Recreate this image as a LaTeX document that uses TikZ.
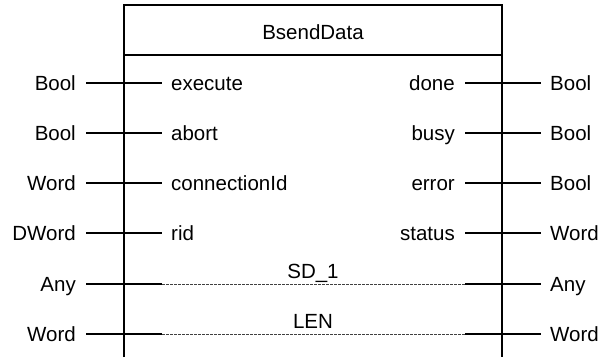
\documentclass[tikz,border=0pt]{standalone}
\usepackage{fontspec}
\setmainfont{Liberation Sans}
\usetikzlibrary{positioning}

\begin{document}
\begin{tikzpicture}[x=1pt, y=-1pt,
  pinlbl/.style={font=\fontsize{20.5}{24}\selectfont, text height=14.7pt,
                 text depth=0pt, inner sep=0pt},
  pinline/.style={line width=1.6pt},
  frame/.style={line width=1.7pt},
  dataline/.style={draw=black!75, line width=1pt, dash pattern=on 3pt off 1pt}
]
\useasboundingbox (0,0) rectangle (603,357);

% block frame, open at the bottom
\coordinate (bl) at (124,357);
\coordinate (tl) at (124,5);
\coordinate (tr) at (502,5);
\coordinate (br) at (502,357);
\coordinate (hl) at (124,55);
\coordinate (hr) at (502,55);
\draw[frame] (bl) -- (tl) -- (tr) -- (br);
\draw[frame] (hl) -- (hr);
\node[pinlbl] (title) at (313,32) {BsendData};

% inputs
\foreach \y/\ty/\nm [count=\i] in {83/Bool/execute, 133/Bool/abort,
                                   183/Word/connectionId, 233/DWord/rid} {
  \coordinate (inA\i) at (86,\y);
  \coordinate (inB\i) at (162,\y);
  \draw[pinline] (inA\i) -- (inB\i);
  \node[pinlbl, left=10pt of inA\i] (intype\i) {\ty};
  \node[pinlbl, right=9pt of inB\i] (inname\i) {\nm};
}

% outputs
\foreach \y/\nm/\ty [count=\i] in {83/done/Bool, 133/busy/Bool,
                                   183/error/Bool, 233/status/Word} {
  \coordinate (outA\i) at (465,\y);
  \coordinate (outB\i) at (541,\y);
  \draw[pinline] (outA\i) -- (outB\i);
  \node[pinlbl, left=10pt of outA\i] (outname\i) {\nm};
  \node[pinlbl, right=9pt of outB\i] (outtype\i) {\ty};
}

% in/out parameters
\foreach \y/\nm/\ty [count=\i] in {284/SD\_1/Any, 334/LEN/Word} {
  \coordinate (ioA\i) at (86,\y);
  \coordinate (ioB\i) at (162,\y);
  \coordinate (ioC\i) at (465,\y);
  \coordinate (ioD\i) at (541,\y);
  \coordinate (iomid\i) at (313,\y);
  \draw[pinline] (ioA\i) -- (ioB\i);
  \draw[dataline] (ioB\i) -- (ioC\i);
  \draw[pinline] (ioC\i) -- (ioD\i);
  \node[pinlbl, left=10pt of ioA\i] (iointype\i) {\ty};
  \node[pinlbl, right=9pt of ioD\i] (ioouttype\i) {\ty};
  \node[pinlbl, above=5pt of iomid\i] (ioname\i) {\nm};
}
\end{tikzpicture}
\end{document}
